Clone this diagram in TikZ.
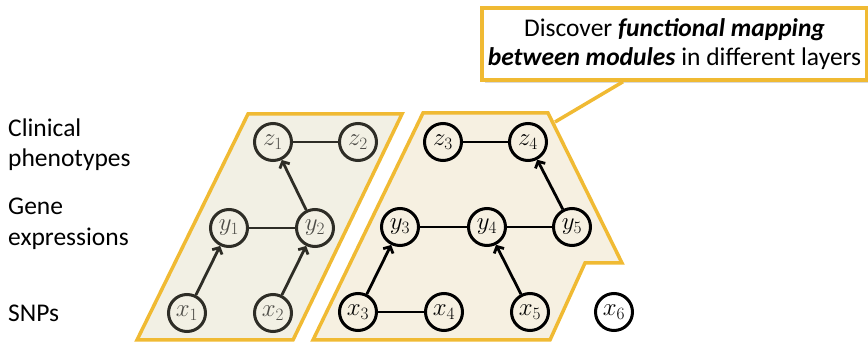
\documentclass[tikz,border=0pt]{standalone}
\usepackage{fontspec}
\setmainfont{Carlito}
\usetikzlibrary{arrows.meta}
\definecolor{gold}{HTML}{F0BA33}
\definecolor{leftfill}{HTML}{F2F0E4}
\definecolor{rightfill}{HTML}{F6F0E1}
\definecolor{fadeink}{HTML}{2E2D26}
\tikzset{
  var/.style={circle, draw, line width=3pt, minimum size=37pt, inner sep=0pt, font=\fontsize{23}{26}\selectfont},
  fadevar/.style={var, draw=fadeink, text=fadeink!85},
  link/.style={line width=2.8pt},
  dirlink/.style={link, -{Straight Barb[length=5pt,width=11pt]}},
  panel/.style={draw=gold, line width=3.5pt, line join=miter},
  layerlabel/.style={anchor=base west, inner sep=0pt, font=\fontsize{25.5}{30}\selectfont},
}
\begin{document}
\begin{tikzpicture}[x=1pt, y=-1pt]
\useasboundingbox (0,0) rectangle (868,344);
% panels
\draw[panel, fill=leftfill] (248,114) -- (402,114) -- (293,340) -- (137,340) -- cycle;
\draw[panel, fill=rightfill] (423,113) -- (548,113) -- (622,263) -- (585,263) -- (550,340) -- (313,340) -- cycle;
% layer labels
\node[layerlabel] (lc1) at (8,137) {Clinical};
\node[layerlabel] (lc2) at (8,167) {phenotypes};
\node[layerlabel] (lg1) at (8,215) {Gene};
\node[layerlabel] (lg2) at (8,246) {expressions};
\node[layerlabel] (ls) at (8,322) {SNPs};
% left module
\node[fadevar] (z1) at (273,142) {$z_1$};
\node[fadevar] (z2) at (358,142) {$z_2$};
\node[fadevar] (y1) at (229,228) {$y_1$};
\node[fadevar] (y2) at (315,228) {$y_2$};
\node[fadevar] (x1) at (187,313) {$x_1$};
\node[fadevar] (x2) at (273,313) {$x_2$};
\draw[link, draw=fadeink] (z1) -- (z2);
\draw[link, draw=fadeink] (y1) -- (y2);
\draw[dirlink, draw=fadeink] (y2) -- (z1);
\draw[dirlink, draw=fadeink] (x1) -- (y1);
\draw[dirlink, draw=fadeink] (x2) -- (y2);
% right module
\node[var] (z3) at (443,142) {$z_3$};
\node[var] (z4) at (528,142) {$z_4$};
\node[var] (y3) at (400,227) {$y_3$};
\node[var] (y4) at (487,227) {$y_4$};
\node[var] (y5) at (572,227) {$y_5$};
\node[var] (x3) at (358,312) {$x_3$};
\node[var] (x4) at (444,312) {$x_4$};
\node[var] (x5) at (530,312) {$x_5$};
\node[var, fill=white] (x6) at (614,312) {$x_6$};
\draw[link] (z3) -- (z4);
\draw[link] (y3) -- (y4);
\draw[link] (y4) -- (y5);
\draw[link] (x3) -- (x4);
\draw[dirlink] (y5) -- (z4);
\draw[dirlink] (x3) -- (y3);
\draw[dirlink] (x5) -- (y4);
% callout
\fill[black!15] (485,11) rectangle (870,83);
\node[draw=gold, line width=3.5pt, fill=white, minimum width=385pt, minimum height=72pt, inner sep=0pt,
      align=center, font=\fontsize{25.5}{29}\selectfont] (callout) at (674.5,44)
  {Discover \textbf{\textit{functional mapping}}\\ \textbf{\textit{between modules}} in different layers};
\coordinate (tailtip) at (555,122);
\draw[gold, line width=3.5pt] (callout.south -| 623,0) -- (tailtip);
\end{tikzpicture}
\end{document}
